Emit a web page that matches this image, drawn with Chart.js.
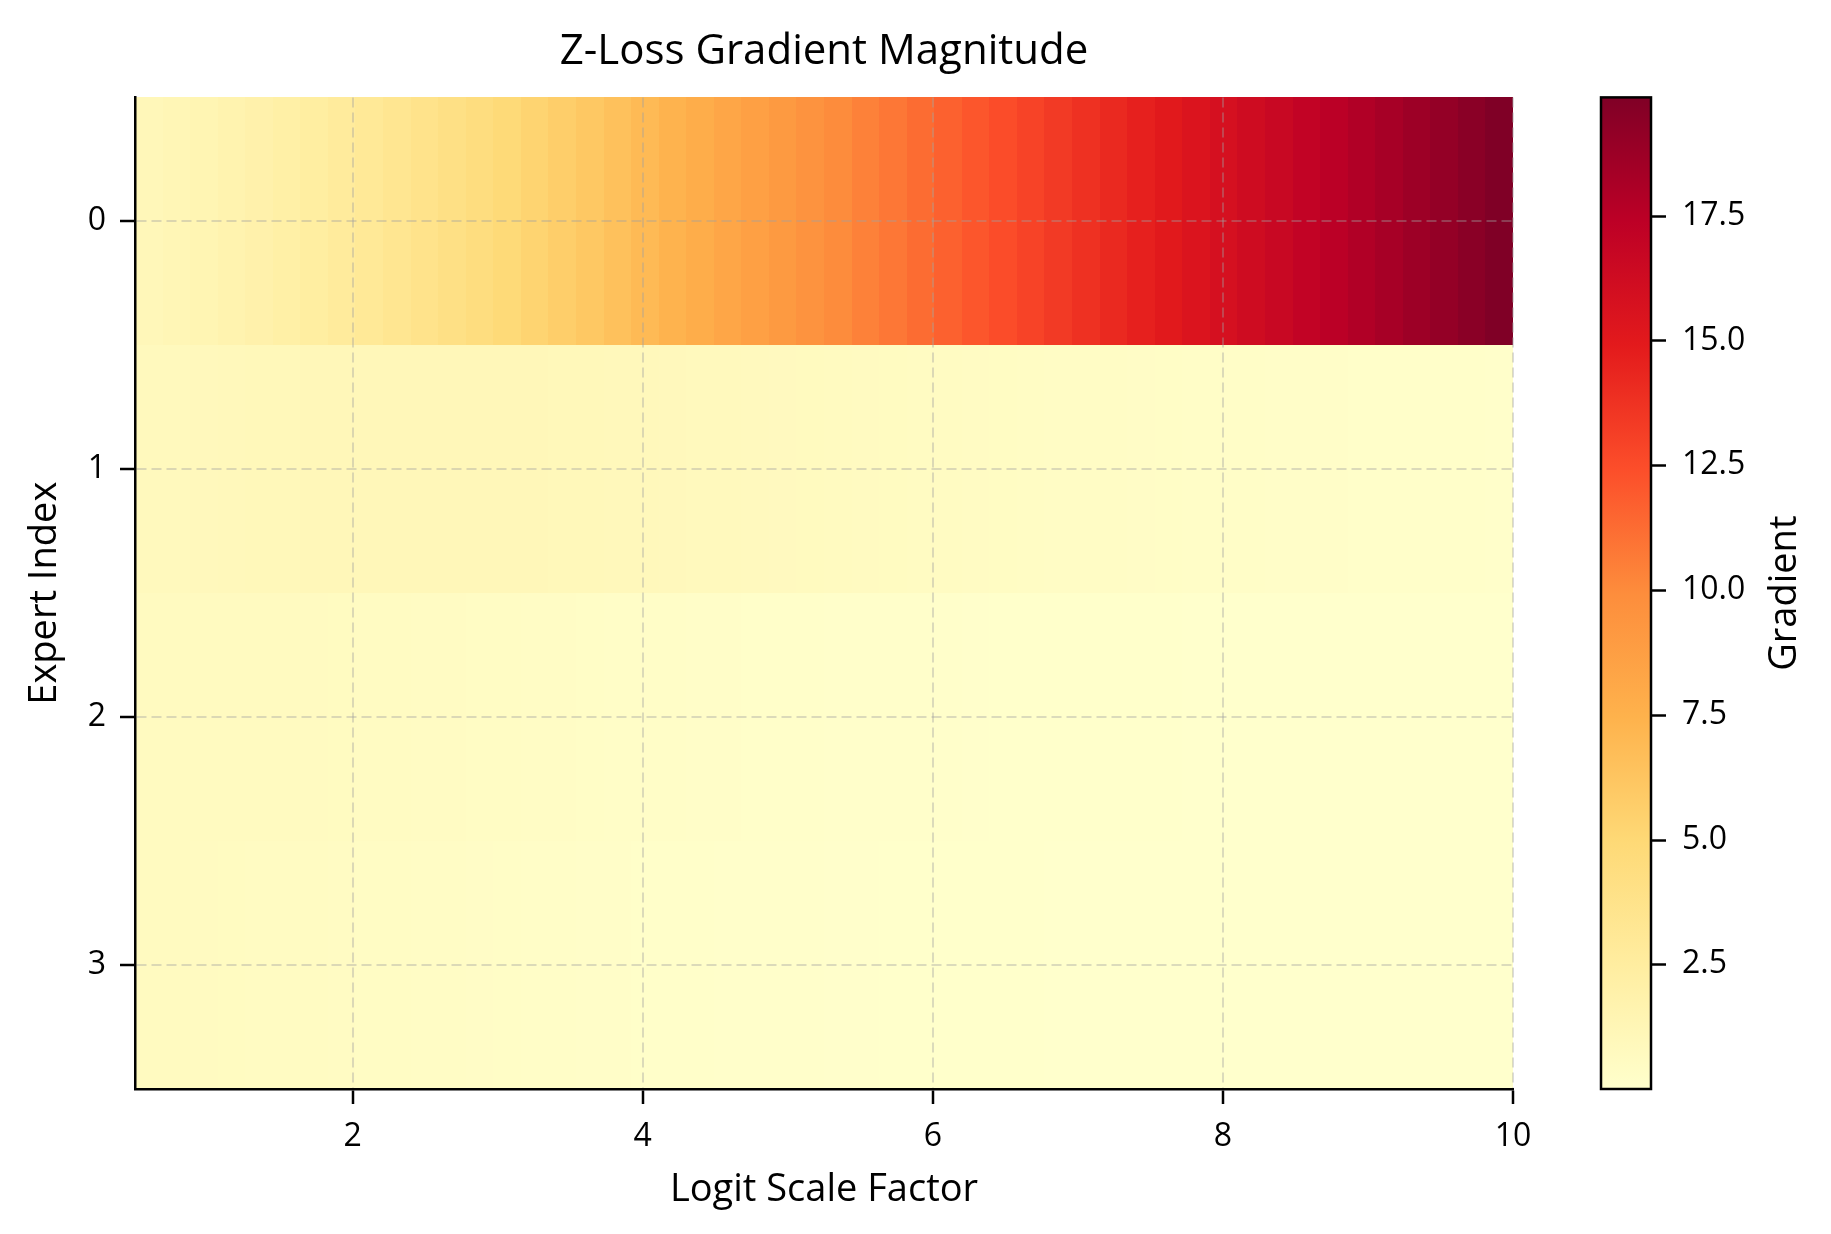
<!DOCTYPE html>
<html>
<head>
<meta charset="utf-8">
<script src="https://cdn.jsdelivr.net/npm/chart.js@4.4.1/dist/chart.umd.min.js"></script>
<style>
  body { margin: 0; background: #fff; }
  #wrap { width: 1831px; height: 1234px; }
</style>
</head>
<body>
<div id="wrap"><canvas id="heat" width="1831" height="1234"></canvas></div>
<script>
// logit scale factor for each column
const scaleFactors = [0.5, 0.694, 0.888, 1.082, 1.276, 1.469, 1.663, 1.857, 2.051, 2.245,
  2.439, 2.633, 2.827, 3.020, 3.214, 3.408, 3.602, 3.796, 3.990, 4.184,
  4.378, 4.571, 4.765, 4.959, 5.153, 5.347, 5.541, 5.735, 5.929, 6.122,
  6.316, 6.510, 6.704, 6.898, 7.092, 7.286, 7.480, 7.673, 7.867, 8.061,
  8.255, 8.449, 8.643, 8.837, 9.031, 9.224, 9.418, 9.612, 9.806, 10.0];
const expertIndex = [0, 1, 2, 3];

// gradient magnitude per expert, one value per column
const gradExpert0 = [1.054, 1.228, 1.422, 1.637, 1.874, 2.131, 2.410, 2.708, 3.026, 3.362,
  3.714, 4.081, 4.462, 4.854, 5.256, 5.666, 6.083, 6.506, 6.933, 7.363,
  7.795, 8.228, 8.662, 9.096, 9.529, 9.961, 10.393, 10.823, 11.251, 11.677,
  12.102, 12.525, 12.946, 13.365, 13.783, 14.197, 14.612, 15.023, 15.434, 15.844,
  16.252, 16.659, 17.064, 17.469, 17.872, 18.273, 18.675, 19.074, 19.472, 19.871];
const gradExpert1 = [0.821, 0.868, 0.912, 0.953, 0.990, 1.022, 1.049, 1.070, 1.085, 1.094,
  1.097, 1.094, 1.086, 1.072, 1.054, 1.031, 1.005, 0.975, 0.943, 0.909,
  0.873, 0.837, 0.800, 0.762, 0.725, 0.687, 0.651, 0.615, 0.581, 0.547,
  0.514, 0.483, 0.453, 0.425, 0.397, 0.372, 0.348, 0.325, 0.303, 0.282,
  0.262, 0.243, 0.227, 0.210, 0.195, 0.181, 0.168, 0.156, 0.144, 0.134];
const gradExpert2 = [0.707, 0.705, 0.699, 0.689, 0.675, 0.658, 0.637, 0.613, 0.586, 0.558,
  0.528, 0.497, 0.465, 0.433, 0.402, 0.371, 0.341, 0.312, 0.285, 0.259,
  0.235, 0.212, 0.191, 0.172, 0.154, 0.138, 0.124, 0.110, 0.098, 0.087,
  0.077, 0.069, 0.061, 0.054, 0.047, 0.042, 0.037, 0.032, 0.029, 0.025,
  0.022, 0.019, 0.017, 0.015, 0.013, 0.011, 0.010, 0.009, 0.008, 0.007];
const gradExpert3 = [0.672, 0.658, 0.640, 0.619, 0.594, 0.568, 0.539, 0.509, 0.478, 0.446,
  0.414, 0.382, 0.350, 0.320, 0.291, 0.264, 0.238, 0.213, 0.191, 0.171,
  0.152, 0.134, 0.119, 0.105, 0.092, 0.081, 0.071, 0.062, 0.054, 0.047,
  0.041, 0.036, 0.031, 0.027, 0.023, 0.020, 0.017, 0.015, 0.013, 0.011,
  0.010, 0.008, 0.007, 0.006, 0.005, 0.005, 0.004, 0.003, 0.003, 0.002];

const xExtent = [0.5, 10];
const xTickValues = [2, 4, 6, 8, 10];
const yTickValues = [0, 1, 2, 3];
const cbTickValues = [2.5, 5, 7.5, 10, 12.5, 15, 17.5];

const gradRows = [gradExpert0, gradExpert1, gradExpert2, gradExpert3];
const allVals = gradRows.flat();
const vmin = Math.min(...allVals);
const vmax = Math.max(...allVals);

// YlOrRd
const ylorrd = ['#ffffcc', '#ffeda0', '#fed976', '#feb24c', '#fd8d3c', '#fc4e2a', '#e31a1c', '#bd0026', '#800026'];
const rgbStops = ylorrd.map(h => [1, 3, 5].map(i => parseInt(h.substr(i, 2), 16)));
function cmap(v) {
  let t = (v - vmin) / (vmax - vmin);
  t = Math.max(0, Math.min(1, t));
  const p = t * (rgbStops.length - 1);
  const i = Math.min(Math.floor(p), rgbStops.length - 2);
  const f = p - i;
  const c = rgbStops[i].map((a, j) => Math.round(a + (rgbStops[i + 1][j] - a) * f));
  return 'rgb(' + c.join(',') + ')';
}

const FONT = "'Open Sans', 'Noto Sans', sans-serif";
const gridColor = 'rgba(160,160,160,0.38)';

const heatmapPlugin = {
  id: 'heatmap',
  beforeDraw(chart) {
    const {ctx, scales: {x, y}} = chart;
    ctx.save();
    ctx.fillStyle = '#fff';
    ctx.fillRect(0, 0, chart.width, chart.height);
    const nCols = scaleFactors.length;
    const w = (xExtent[1] - xExtent[0]) / nCols;
    expertIndex.forEach((r, ri) => {
      const ya = Math.round(y.getPixelForValue(r - 0.5));
      const yb = Math.round(y.getPixelForValue(r + 0.5));
      gradRows[ri].forEach((v, k) => {
        const xa = Math.round(x.getPixelForValue(xExtent[0] + k * w));
        const xb = Math.round(x.getPixelForValue(xExtent[0] + (k + 1) * w));
        ctx.fillStyle = cmap(v);
        ctx.fillRect(xa, Math.min(ya, yb), xb - xa + (k < nCols - 1 ? 1 : 0), Math.abs(yb - ya));
      });
    });
    ctx.restore();
  }
};

const colorbarPlugin = {
  id: 'colorbar',
  afterDraw(chart) {
    const {ctx} = chart;
    const cb = chart.scales.cb;
    const left = 1601, right = 1651;
    const yBot = cb.getPixelForValue(vmin);
    const yTop = cb.getPixelForValue(vmax);
    ctx.save();
    const g = ctx.createLinearGradient(0, yBot, 0, yTop);
    ylorrd.forEach((c, i) => g.addColorStop(i / (ylorrd.length - 1), c));
    ctx.fillStyle = g;
    ctx.fillRect(left, yTop, right - left, yBot - yTop);
    ctx.strokeStyle = '#000';
    ctx.lineWidth = 2.5;
    ctx.strokeRect(left, yTop, right - left, yBot - yTop);
    cbTickValues.forEach(v => {
      const py = Math.round(cb.getPixelForValue(v)) + 0.5;
      ctx.beginPath();
      ctx.moveTo(right, py);
      ctx.lineTo(right + 15, py);
      ctx.stroke();
    });
    ctx.translate(1785, (yTop + yBot) / 2);
    ctx.rotate(-Math.PI / 2);
    ctx.fillStyle = '#000';
    ctx.font = '38px ' + FONT;
    ctx.textAlign = 'center';
    ctx.textBaseline = 'middle';
    ctx.fillText('Gradient', 0, 0);
    ctx.restore();
  }
};

const tickFont = {family: FONT, size: 32};
const labelFont = {family: FONT, size: 38};

function noPad(s) {
  s.paddingTop = 0; s.paddingBottom = 0; s.paddingLeft = 0; s.paddingRight = 0;
}

new Chart(document.getElementById('heat'), {
  type: 'scatter',
  data: {datasets: [{data: []}]},
  options: {
    responsive: false,
    animation: false,
    devicePixelRatio: 1,
    layout: {padding: 0},
    plugins: {
      legend: {display: false},
      tooltip: {enabled: false},
      title: {
        display: true,
        text: 'Z-Loss Gradient Magnitude',
        fullSize: false,
        color: '#000',
        font: {family: FONT, size: 42, weight: 'normal'},
        padding: {top: 27, bottom: 20}
      }
    },
    scales: {
      x: {
        type: 'linear',
        position: 'bottom',
        min: xExtent[0],
        max: xExtent[1],
        afterBuildTicks: s => { s.ticks = xTickValues.map(v => ({value: v})); },
        afterFit: s => { s.height = 145; noPad(s); },
        ticks: {font: tickFont, color: '#000', padding: 14, maxRotation: 0, autoSkip: false, callback: v => String(v)},
        grid: {color: gridColor, lineWidth: 2, borderDash: [10, 5], tickColor: '#000', tickWidth: 2.5, tickLength: 15, tickBorderDash: []},
        border: {display: true, color: '#000', width: 2.5, dash: [10, 5]},
        title: {display: true, text: 'Logit Scale Factor', color: '#000', font: labelFont, padding: {top: 0, bottom: 21}}
      },
      y: {
        type: 'linear',
        position: 'left',
        reverse: true,
        min: -0.5,
        max: 3.5,
        afterBuildTicks: s => { s.ticks = yTickValues.map(v => ({value: v})); },
        afterFit: s => { s.width = 135; noPad(s); },
        ticks: {font: tickFont, color: '#000', padding: 14, autoSkip: false, callback: v => String(v)},
        grid: {color: gridColor, lineWidth: 2, borderDash: [10, 5], tickColor: '#000', tickWidth: 2.5, tickLength: 15, tickBorderDash: []},
        border: {display: true, color: '#000', width: 2.5, dash: [10, 5]},
        title: {display: true, text: 'Expert Index', color: '#000', font: labelFont, padding: {top: 22, bottom: 0}}
      },
      cb: {
        type: 'linear',
        position: 'right',
        min: vmin,
        max: vmax,
        afterBuildTicks: s => { s.ticks = cbTickValues.map(v => ({value: v})); },
        afterFit: s => { s.width = 318; noPad(s); },
        ticks: {font: tickFont, color: '#000', padding: 169, autoSkip: false, callback: v => v.toFixed(1)},
        grid: {drawOnChartArea: false, drawTicks: false},
        border: {display: false}
      }
    }
  },
  plugins: [heatmapPlugin, colorbarPlugin]
});
</script>
</body>
</html>
